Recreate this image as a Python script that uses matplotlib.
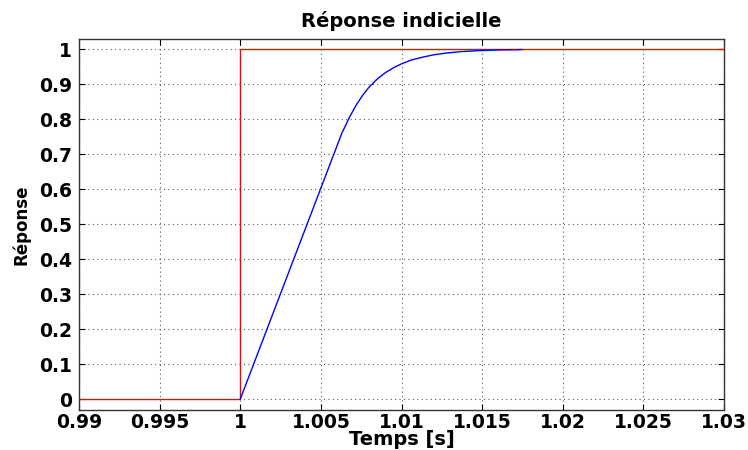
import matplotlib
matplotlib.use("Agg")
import matplotlib.pyplot as plt

plt.rcParams['font.family'] = ['DejaVu Sans']

# consigne (echelon unite a t = 1 s)
t_step = [0.99, 1.0, 1.0, 1.03]
y_step = [0.0, 0.0, 1.0, 1.0]

# reponse du systeme
t_rep = [1.0, 1.0063, 1.0065, 1.0068, 1.0072, 1.0076, 1.0080, 1.0085,
         1.0090, 1.0095, 1.0100, 1.0106, 1.0113, 1.0120, 1.0128, 1.0137,
         1.0147, 1.0158, 1.0168, 1.0175]
y_rep = [0.0, 0.760, 0.779, 0.808, 0.841, 0.869, 0.892, 0.915,
         0.933, 0.947, 0.958, 0.969, 0.977, 0.984, 0.989, 0.993,
         0.9956, 0.9974, 0.9983, 0.9988]

x_ticks = [0.99, 0.995, 1.0, 1.005, 1.01, 1.015, 1.02, 1.025, 1.03]
x_labels = ['0.99', '0.995', '1', '1.005', '1.01', '1.015', '1.02', '1.025', '1.03']
y_ticks = [0, 0.1, 0.2, 0.3, 0.4, 0.5, 0.6, 0.7, 0.8, 0.9, 1]
y_labels = ['0', '0.1', '0.2', '0.3', '0.4', '0.5', '0.6', '0.7', '0.8', '0.9', '1']

fig = plt.figure(figsize=(7.48, 4.5), dpi=100)
ax = fig.add_axes([0.1056, 0.0889, 0.8624, 0.8244])

ax.plot(t_step, y_step, color='red', linewidth=1.0)
ax.plot(t_rep, y_rep, color='blue', linewidth=1.0)

ax.set_xlim(0.99, 1.03)
ax.set_ylim(-0.031, 1.029)
ax.set_xticks(x_ticks)
ax.set_xticklabels(x_labels)
ax.set_yticks(y_ticks)
ax.set_yticklabels(y_labels)

ax.grid(True, linestyle=(0, (1, 3)), color='#555555', linewidth=0.8)
ax.tick_params(direction='in', top=True, right=True, length=4, width=0.8,
               labelsize=13.5)
ax.tick_params(axis='x', pad=2)
ax.tick_params(axis='y', pad=5)
for lab in ax.get_xticklabels() + ax.get_yticklabels():
    lab.set_fontweight('bold')
for sp in ax.spines.values():
    sp.set_color('#333333')
    sp.set_linewidth(1.0)

ax.set_title('Réponse indicielle', fontsize=14, fontweight='bold', pad=9)
ax.set_xlabel('Temps [s]', fontsize=14, fontweight='bold', labelpad=-1)
ax.set_ylabel('Réponse', fontsize=12, fontweight='bold', labelpad=6)

fig.savefig('out.png', dpi=100)
